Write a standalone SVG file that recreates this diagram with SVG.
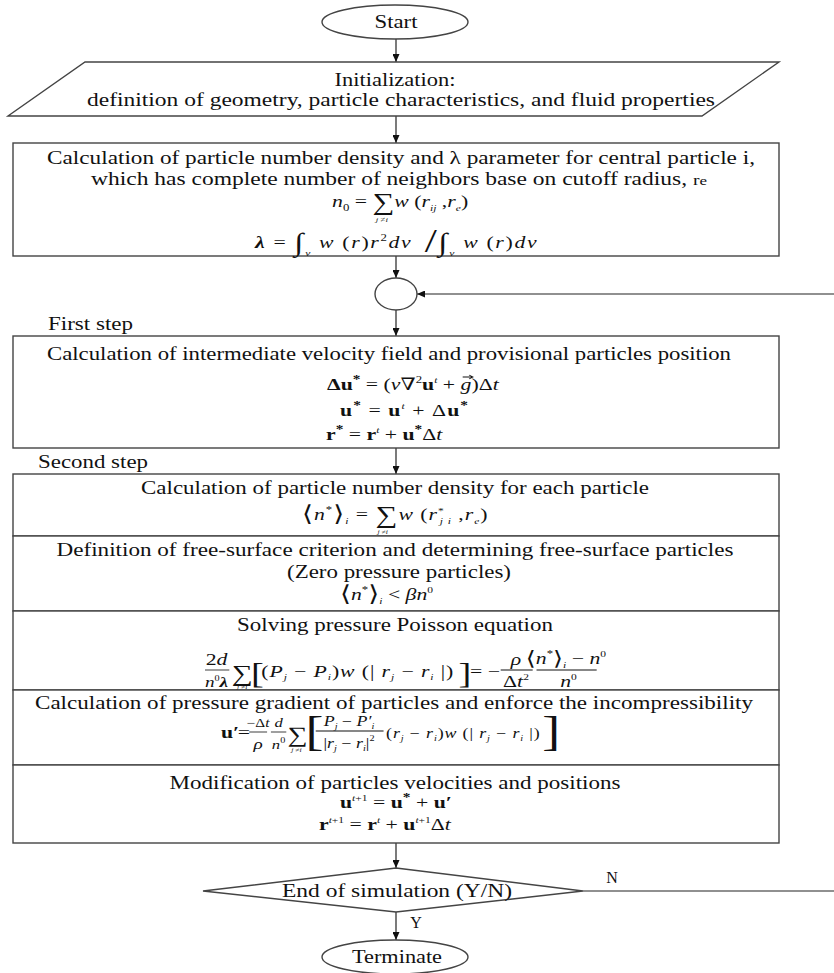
<svg xmlns="http://www.w3.org/2000/svg" width="834" height="973" viewBox="0 0 834 973">
<style>
.t{font-family:"Liberation Serif","Times New Roman",serif;font-size:18px;fill:#111;text-anchor:middle}
.l{text-anchor:start}
.m{font-family:"Liberation Serif","DejaVu Serif",serif;font-size:17px;fill:#111}
.i{font-style:italic}
.b{font-weight:bold}
.sh{fill:#fff;stroke:#444;stroke-width:1.4}
.c{stroke:#222;stroke-width:1.2;fill:none}
.fb{stroke:#111;stroke-width:0.8}
</style>
<defs>
<marker id="ah" markerWidth="8" markerHeight="7" refX="8" refY="3.5" orient="auto" markerUnits="userSpaceOnUse"><path d="M0,0 L8,3.5 L0,7 z" fill="#111"/></marker>
</defs>
<rect width="834" height="973" fill="#fff"/>

<g id="connectors">
<line class="c" x1="396" y1="39" x2="396" y2="62" marker-end="url(#ah)"/>
<line class="c" x1="396" y1="116" x2="396" y2="143" marker-end="url(#ah)"/>
<line class="c" x1="396" y1="256" x2="396" y2="278" marker-end="url(#ah)"/>
<line class="c" x1="396" y1="310" x2="396" y2="336" marker-end="url(#ah)"/>
<line class="c" x1="396" y1="448" x2="396" y2="474" marker-end="url(#ah)"/>
<line class="c" x1="396" y1="843" x2="396" y2="868" marker-end="url(#ah)"/>
<line class="c" x1="396" y1="912" x2="396" y2="940" marker-end="url(#ah)"/>
<line class="c" x1="583" y1="891" x2="834" y2="891"/>
<line class="c" x1="834" y1="294" x2="417" y2="294" marker-end="url(#ah)"/>
<text class="t" x="612" y="883" style="font-size:16px">N</text>
<text class="t" x="416" y="928" style="font-size:16px">Y</text>
</g>

<g id="start">
<ellipse class="sh" cx="395" cy="22" rx="73" ry="17"/>
<text class="t" x="396" y="28" textLength="43" lengthAdjust="spacingAndGlyphs">Start</text>
</g>

<g id="init">
<polygon class="sh" points="85,62 779,62 702,116 8,116"/>
<text class="t" x="395" y="86" textLength="121" lengthAdjust="spacingAndGlyphs">Initialization:</text>
<text class="t" x="401" y="106" textLength="628" lengthAdjust="spacingAndGlyphs">definition of geometry, particle characteristics, and fluid properties</text>
</g>

<g id="reference-density">
<rect class="sh" x="13" y="143" width="766" height="113"/>
<text class="t" x="401" y="164" textLength="708" lengthAdjust="spacingAndGlyphs">Calculation of particle number density and λ parameter for central particle i,</text>
<text class="t" x="399" y="185" textLength="616" lengthAdjust="spacingAndGlyphs">which has complete number of neighbors base on cutoff radius, <tspan style="font-size:15px">r</tspan><tspan style="font-size:13px">e</tspan></text>
<g transform="translate(332,0) scale(1.28,1)">
<text class="m" y="207"><tspan class="i">n</tspan><tspan font-size="10" dy="4">0</tspan><tspan dy="-4"> = </tspan><tspan font-size="24" dy="3">∑</tspan><tspan dy="-3" class="i">w</tspan><tspan> (</tspan><tspan class="i">r</tspan><tspan class="i" font-size="9" dy="4">ij</tspan><tspan dy="-4"> ,</tspan><tspan class="i">r</tspan><tspan class="i" font-size="9" dy="4">e</tspan><tspan dy="-4">)</tspan></text>
<text class="m i" x="39" y="222" text-anchor="middle" style="font-size:7px">j ≠i</text>
</g>
<g transform="translate(255,0) scale(1.28,1)">
<text class="m" y="248" textLength="220" lengthAdjust="spacing"><tspan class="i b">λ</tspan><tspan> = </tspan><tspan font-size="26" dy="3">∫</tspan><tspan class="i" font-size="9" dy="5">v</tspan><tspan dy="-8" class="i"> w</tspan><tspan> (</tspan><tspan class="i">r</tspan><tspan>)</tspan><tspan class="i">r</tspan><tspan font-size="10" dy="-7">2</tspan><tspan dy="7" class="i">dv</tspan><tspan font-size="34" dy="4"> /</tspan><tspan font-size="26" dy="-1">∫</tspan><tspan class="i" font-size="9" dy="5">v</tspan><tspan dy="-8" class="i"> w</tspan><tspan> (</tspan><tspan class="i">r</tspan><tspan>)</tspan><tspan class="i">dv</tspan></text>
</g>
</g>

<g id="merge">
<ellipse class="sh" cx="396" cy="294" rx="21" ry="16"/>
</g>

<g id="first-step-label">
<text class="t l" x="48" y="330" textLength="85" lengthAdjust="spacingAndGlyphs">First step</text>
</g>

<g id="first-step">
<rect class="sh" x="13" y="336" width="766" height="112"/>
<text class="t" x="389" y="360" textLength="684" lengthAdjust="spacingAndGlyphs">Calculation of intermediate velocity field and provisional particles position</text>
<g transform="translate(327,0) scale(1.28,1)">
<text class="m" y="390"><tspan class="b">Δu</tspan><tspan class="b" font-size="12" dy="-7">*</tspan><tspan dy="7"> = (</tspan><tspan class="i">ν</tspan><tspan>∇</tspan><tspan font-size="10" dy="-7">2</tspan><tspan class="b" dy="7">u</tspan><tspan class="i" font-size="9" dy="-7">t</tspan><tspan dy="7"> + </tspan><tspan class="i">g</tspan><tspan>)Δ</tspan><tspan class="i">t</tspan></text>
<path d="M106,377 H114 M111,375 L114,377 L111,379" stroke="#111" stroke-width="0.9" fill="none"/>
</g>
<g transform="translate(340,0) scale(1.28,1)">
<text class="m" y="416" textLength="100" lengthAdjust="spacing"><tspan class="b">u</tspan><tspan class="b" font-size="12" dy="-7">*</tspan><tspan dy="7"> = </tspan><tspan class="b">u</tspan><tspan class="i" font-size="9" dy="-7">t</tspan><tspan dy="7"> + Δ</tspan><tspan class="b">u</tspan><tspan class="b" font-size="12" dy="-7">*</tspan></text>
</g>
<g transform="translate(326,0) scale(1.28,1)">
<text class="m" y="440"><tspan class="b">r</tspan><tspan class="b" font-size="12" dy="-7">*</tspan><tspan dy="7"> = </tspan><tspan class="b">r</tspan><tspan class="i" font-size="9" dy="-7">t</tspan><tspan dy="7"> + </tspan><tspan class="b">u</tspan><tspan class="b" font-size="12" dy="-7">*</tspan><tspan dy="7">Δ</tspan><tspan class="i">t</tspan></text>
</g>
</g>

<g id="second-step-label">
<text class="t l" x="38" y="468" textLength="110" lengthAdjust="spacingAndGlyphs">Second step</text>
</g>

<g id="density">
<rect class="sh" x="13" y="474" width="766" height="62"/>
<text class="t" x="395" y="494" textLength="508" lengthAdjust="spacingAndGlyphs">Calculation of particle number density for each particle</text>
<g transform="translate(302,0) scale(1.28,1)">
<text class="m" y="520" textLength="145" lengthAdjust="spacing"><tspan font-size="22" dy="1">⟨</tspan><tspan class="i" dy="-1">n</tspan><tspan font-size="10" dy="-7">*</tspan><tspan font-size="22" dy="8">⟩</tspan><tspan class="i" font-size="9" dy="3">i</tspan><tspan dy="-4"> = </tspan><tspan font-size="24" dy="3">∑</tspan><tspan class="i" dy="-3">w</tspan><tspan> (</tspan><tspan class="i">r</tspan><tspan font-size="9" dy="-6">*</tspan><tspan class="i" font-size="9" dx="-4" dy="10">j i</tspan><tspan dy="-4"> ,</tspan><tspan class="i">r</tspan><tspan class="i" font-size="9" dy="4">e</tspan><tspan dy="-4">)</tspan></text>
<text class="m i" x="63" y="534" text-anchor="middle" style="font-size:6px">j ≠i</text>
</g>
</g>

<g id="free-surface">
<rect class="sh" x="13" y="536" width="766" height="75"/>
<text class="t" x="395" y="556" textLength="677" lengthAdjust="spacingAndGlyphs">Definition of free-surface criterion and determining free-surface particles</text>
<text class="t" x="399" y="578" textLength="224" lengthAdjust="spacingAndGlyphs">(Zero pressure particles)</text>
<g transform="translate(340,0) scale(1.28,1)">
<text class="m" y="600"><tspan font-size="22" dy="1">⟨</tspan><tspan class="i" dy="-1">n</tspan><tspan font-size="10" dy="-7">*</tspan><tspan font-size="22" dy="8">⟩</tspan><tspan class="i" font-size="9" dy="3">i</tspan><tspan dy="-4"> &lt; </tspan><tspan class="i">βn</tspan><tspan font-size="9" dy="-7">0</tspan></text>
</g>
</g>

<g id="poisson">
<rect class="sh" x="13" y="611" width="766" height="79"/>
<text class="t" x="395" y="631" textLength="316" lengthAdjust="spacingAndGlyphs">Solving pressure Poisson equation</text>
<g transform="translate(205,0) scale(1.28,1)">
<text class="m" x="9" y="665" text-anchor="middle">2<tspan class="i">d</tspan></text>
<line class="fb" x1="0" y1="670" x2="19" y2="670"/>
<text class="m" x="9" y="687" text-anchor="middle" style="font-size:15px"><tspan class="i">n</tspan><tspan font-size="8" dy="-6">0</tspan><tspan class="i b" dy="6">λ</tspan></text>
<text class="m" x="21" y="681" style="font-size:23px">∑</text>
<text class="m i" x="29" y="689" text-anchor="middle" style="font-size:6px">j ≠i</text>
<text class="m" x="36" y="683" style="font-size:30px">[</text>
<text class="m" x="44" y="677" textLength="150" lengthAdjust="spacing">(<tspan class="i">P</tspan><tspan class="i" font-size="9" dy="3">j</tspan><tspan dy="-3"> − </tspan><tspan class="i">P</tspan><tspan class="i" font-size="9" dy="3">i</tspan><tspan dy="-3">)</tspan><tspan class="i">w</tspan><tspan> (| </tspan><tspan class="i">r</tspan><tspan class="i" font-size="9" dy="3">j</tspan><tspan dy="-3"> − </tspan><tspan class="i">r</tspan><tspan class="i" font-size="9" dy="3">i</tspan><tspan dy="-3"> |)</tspan></text>
<text class="m" x="198" y="683" style="font-size:30px">]</text>
<text class="m" x="207" y="677">= −</text>
<text class="m i" x="243" y="665" text-anchor="middle">ρ</text>
<line class="fb" x1="231" y1="670" x2="256" y2="670"/>
<text class="m" x="243" y="687" text-anchor="middle">Δ<tspan class="i">t</tspan><tspan font-size="9" dy="-7">2</tspan></text>
<text class="m" x="282" y="664" text-anchor="middle"><tspan font-size="20" dy="1">⟨</tspan><tspan class="i" dy="-1">n</tspan><tspan font-size="10" dy="-7">*</tspan><tspan font-size="20" dy="8">⟩</tspan><tspan class="i" font-size="9" dy="3">i</tspan><tspan dy="-4"> − </tspan><tspan class="i">n</tspan><tspan font-size="9" dy="-7">0</tspan></text>
<line class="fb" x1="259" y1="670" x2="306" y2="670"/>
<text class="m" x="284" y="687" text-anchor="middle"><tspan class="i">n</tspan><tspan font-size="9" dy="-7">0</tspan></text>
</g>
</g>

<g id="pressure-gradient">
<rect class="sh" x="13" y="690" width="766" height="75"/>
<text class="t" x="394" y="709" textLength="718" lengthAdjust="spacingAndGlyphs">Calculation of pressure gradient of particles and enforce the incompressibility</text>
<g transform="translate(221,0) scale(1.28,1)">
<text class="m b" x="0" y="738">u′</text>
<text class="m" x="13" y="738">=</text>
<text class="m" x="29" y="727" text-anchor="middle" style="font-size:12px">−Δ<tspan class="i">t</tspan></text>
<line class="fb" x1="22" y1="732" x2="36" y2="732"/>
<text class="m i" x="29" y="749" text-anchor="middle" style="font-size:15px">ρ</text>
<text class="m i" x="45" y="727" text-anchor="middle" style="font-size:13px">d</text>
<line class="fb" x1="39" y1="732" x2="51" y2="732"/>
<text class="m" x="45" y="749" text-anchor="middle" style="font-size:13px"><tspan class="i">n</tspan><tspan font-size="8" dy="-6">0</tspan></text>
<text class="m" x="52" y="742" style="font-size:22px">∑</text>
<text class="m i" x="59" y="752" text-anchor="middle" style="font-size:6px">j ≠i</text>
<text class="m" x="66" y="745" style="font-size:42px">[</text>
<text class="m" x="100" y="726" text-anchor="middle" style="font-size:14px"><tspan class="i">P</tspan><tspan class="i" font-size="8" dy="3">j</tspan><tspan dy="-3"> − </tspan><tspan class="i">P′</tspan><tspan class="i" font-size="8" dy="3">i</tspan></text>
<line class="fb" x1="74" y1="731" x2="127" y2="731"/>
<text class="m" x="100" y="748" text-anchor="middle" style="font-size:14px">|<tspan class="i">r</tspan><tspan class="i" font-size="8" dy="3">j</tspan><tspan dy="-3"> − </tspan><tspan class="i">r</tspan><tspan class="i" font-size="8" dy="3">i</tspan><tspan dy="-3">|</tspan><tspan font-size="8" dy="-7">2</tspan></text>
<text class="m" x="129" y="738" style="font-size:14px" textLength="120" lengthAdjust="spacing">(<tspan class="i">r</tspan><tspan class="i" font-size="8" dy="3">j</tspan><tspan dy="-3"> − </tspan><tspan class="i">r</tspan><tspan class="i" font-size="8" dy="3">i</tspan><tspan dy="-3">)</tspan><tspan class="i">w</tspan><tspan> (| </tspan><tspan class="i">r</tspan><tspan class="i" font-size="8" dy="3">j</tspan><tspan dy="-3"> − </tspan><tspan class="i">r</tspan><tspan class="i" font-size="8" dy="3">i</tspan><tspan dy="-3"> |)</tspan></text>
<text class="m" x="251" y="745" style="font-size:42px">]</text>
</g>
</g>

<g id="update">
<rect class="sh" x="13" y="765" width="766" height="78"/>
<text class="t" x="395" y="789" textLength="451" lengthAdjust="spacingAndGlyphs">Modification of particles velocities and positions</text>
<g transform="translate(340,0) scale(1.28,1)">
<text class="m" y="808"><tspan class="b">u</tspan><tspan class="i" font-size="9" dy="-7">t</tspan><tspan font-size="9">+1</tspan><tspan dy="7"> = </tspan><tspan class="b">u</tspan><tspan class="b" font-size="12" dy="-7">*</tspan><tspan dy="7"> + </tspan><tspan class="b">u′</tspan></text>
</g>
<g transform="translate(319,0) scale(1.28,1)">
<text class="m" y="830"><tspan class="b">r</tspan><tspan class="i" font-size="9" dy="-7">t</tspan><tspan font-size="9">+1</tspan><tspan dy="7"> = </tspan><tspan class="b">r</tspan><tspan class="i" font-size="9" dy="-7">t</tspan><tspan dy="7"> + </tspan><tspan class="b">u</tspan><tspan class="i" font-size="9" dy="-7">t</tspan><tspan font-size="9">+1</tspan><tspan dy="7">Δ</tspan><tspan class="i">t</tspan></text>
</g>
</g>

<g id="decision">
<polygon class="sh" points="396,868 583,891 396,912 203,891"/>
<text class="t" x="397" y="897" textLength="230" lengthAdjust="spacingAndGlyphs">End of simulation (Y/N)</text>
</g>

<g id="terminate">
<ellipse class="sh" cx="395" cy="957" rx="73" ry="17"/>
<text class="t" x="397" y="963" textLength="90" lengthAdjust="spacingAndGlyphs">Terminate</text>
</g>
</svg>
